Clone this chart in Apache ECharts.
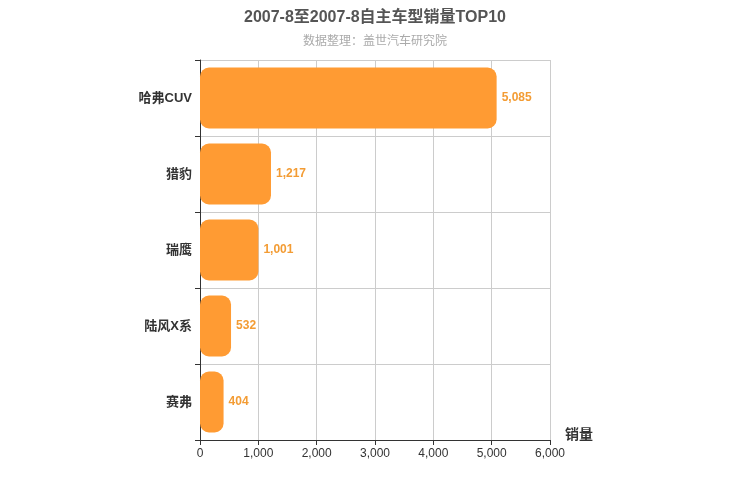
<!DOCTYPE html>
<html><head><meta charset="utf-8">
<script src="https://cdn.jsdelivr.net/npm/echarts@6/dist/echarts.min.js"></script>
<style>html,body{margin:0;padding:0}#c{width:750px;height:500px}</style>
</head><body><div id="c"></div>
<script>
const categories = ['哈弗CUV', '猎豹', '瑞鹰', '陆风X系', '赛弗'];
const sales = [5085, 1217, 1001, 532, 404];
const xTicks = [0, 1000, 2000, 3000, 4000, 5000, 6000];

const chart = echarts.init(document.getElementById('c'));
chart.setOption({
  animation: false,
  textStyle: { fontFamily: 'Arial, "Noto Sans CJK SC", sans-serif' },
  title: {
    text: '2007-8至2007-8自主车型销量TOP10',
    subtext: '数据整理：盖世汽车研究院',
    left: 'center', top: 5, itemGap: 10,
    textStyle: { fontSize: 16, fontWeight: 'bold', color: '#555' },
    subtextStyle: { fontSize: 12, color: '#aaa' }
  },
  grid: { left: 200, right: 200, top: 60, bottom: 60 },
  xAxis: {
    type: 'value', min: xTicks[0], max: xTicks[xTicks.length - 1], interval: 1000,
    name: '销量', nameLocation: 'end', nameGap: 15,
    nameTextStyle: { fontSize: 14, fontWeight: 'bold', color: '#333', verticalAlign: 'top', padding: [-12, 0, 0, 0] },
    axisLine: { show: true, lineStyle: { color: '#333' } },
    axisTick: { show: true, lineStyle: { color: '#333' } },
    axisLabel: { color: '#333', fontSize: 12 },
    splitLine: { lineStyle: { color: '#ccc' } }
  },
  yAxis: {
    type: 'category', data: categories, inverse: true,
    axisLine: { lineStyle: { color: '#333' } },
    axisTick: { show: true, lineStyle: { color: '#333' } },
    axisLabel: { color: '#333', fontSize: 13, fontWeight: 'bold' },
    splitLine: { show: true, lineStyle: { color: '#ccc' } }
  },
  series: [{
    type: 'bar', data: sales, barWidth: '80%',
    itemStyle: { color: '#ff9b33', borderRadius: 9 },
    label: { show: true, position: 'right', color: '#f39c34', fontSize: 12, fontWeight: 'bold',
      formatter: p => p.value.toLocaleString('en-US') }
  }]
});
</script></body></html>
